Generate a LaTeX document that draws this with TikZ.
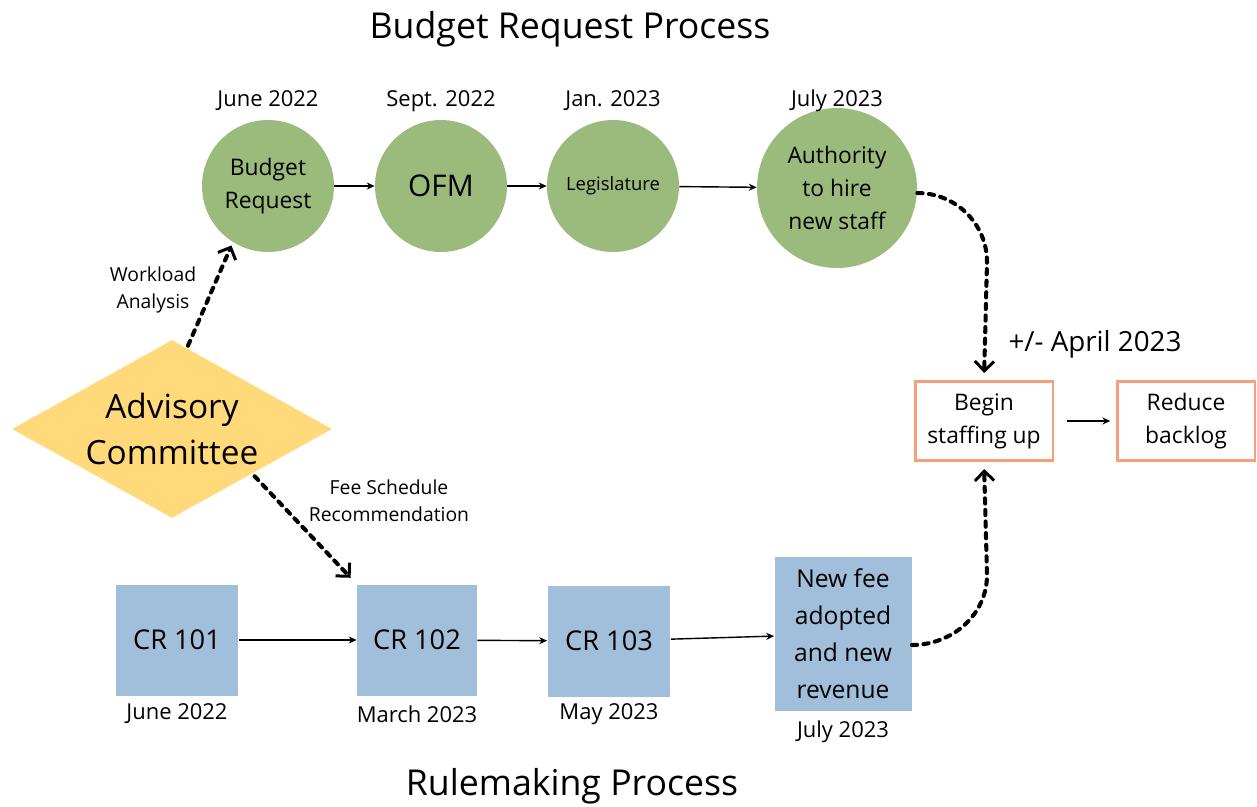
\documentclass[tikz,border=0pt]{standalone}
\usepackage{fontspec}
\setmainfont{Open Sans}
\usetikzlibrary{shapes.geometric,arrows.meta}
\definecolor{budgetgreen}{RGB}{155,187,125}
\definecolor{ruleblue}{RGB}{161,190,218}
\definecolor{advyellow}{RGB}{255,217,122}
\definecolor{staffpeach}{RGB}{246,160,122}
\begin{document}
\begin{tikzpicture}[x=0.02cm,y=-0.02cm,
  step node/.style={circle,fill=budgetgreen,minimum size=2.64cm,inner sep=0pt,align=center,font=\fontsize{13}{18.7}\selectfont},
  cr node/.style={rectangle,fill=ruleblue,minimum width=2.46cm,minimum height=2.22cm,inner sep=0pt,align=center,font=\fontsize{15.5}{18}\selectfont},
  goal node/.style={rectangle,draw=staffpeach,line width=1.7pt,fill=white,minimum width=2.76cm,minimum height=1.58cm,align=center,font=\fontsize{13}{18.7}\selectfont},
  date/.style={font=\fontsize{12.5}{15}\selectfont},
  note/.style={align=center,font=\fontsize{11}{15.3}\selectfont},
  title/.style={font=\fontsize{20.3}{24}\selectfont},
  thin arrow/.style={-{Stealth[length=4.5pt,width=4pt]},line width=0.8pt},
  dot arrow/.style={-{Straight Barb[length=5.5pt,width=11pt,line width=1.7pt]},line width=2.3pt,dash pattern=on 3pt off 3.6pt,line cap=round}]
\useasboundingbox (0,0) rectangle (1257,806);

\node[title] (budgettitle) at (570,29) {Budget Request Process};
\node[title] (ruletitle) at (572,786) {Rulemaking Process};

% budget request process
\node[step node] (request) at (268,186) {Budget\\Request};
\node[step node,font=\fontsize{17}{20}\selectfont] (ofm) at (441,186) {OFM};
\node[step node,font=\fontsize{10.5}{12}\selectfont] (legis) at (613,186) {Legislature};
\node[step node,minimum size=3.2cm] (hire) at (837,188) {Authority\\to hire\\new staff};
\node[date] (d1) at (268,101) {June 2022};
\node[date] (d2) at (441,101) {Sept. 2022};
\node[date] (d3) at (613,101) {Jan. 2023};
\node[date] (d4) at (837,101) {July 2023};

% rulemaking process
\node[cr node] (cr101) at (177,640) {CR 101};
\node[cr node,minimum width=2.4cm] (cr102) at (417,640) {CR 102};
\node[cr node] (cr103) at (609,641) {CR 103};
\node[cr node,minimum width=2.74cm,minimum height=3.08cm,font=\fontsize{14}{21}\selectfont] (newfee) at (843,634) {New fee\\adopted\\and new\\revenue};
\node[date] (d5) at (177,714) {June 2022};
\node[date] (d6) at (417,714) {March 2023};
\node[date] (d7) at (609,714) {May 2023};
\node[date] (d8) at (843,732) {July 2023};

\node[diamond,fill=advyellow,aspect=1.8,minimum width=6.4cm,minimum height=3.56cm,inner sep=0pt,align=center,font=\fontsize{19}{26}\selectfont] (advisory) at (172,429) {Advisory\\Committee};
\node[note] (workload) at (153,290) {Workload\\Analysis};
\node[note] (feesched) at (389,501) {Fee Schedule\\Recommendation};

\node[goal node] (staffing) at (984,421) {Begin\\staffing up};
\node[goal node] (backlog) at (1186,421) {Reduce\\backlog};
\node[font=\fontsize{15.8}{18}\selectfont] (april) at (1095,344) {+/- April 2023};

\coordinate (upbend) at (987,262);
\coordinate (lowbend) at (987,575);

\begin{scope}[thin arrow]
\draw (request) -- (ofm);
\draw (ofm) -- (legis);
\draw (legis) -- (hire);
\draw (cr101) -- (cr102);
\draw (cr102) -- (cr103);
\draw (cr103) -- (newfee);
\draw[shorten <=7pt,shorten >=3pt] (staffing) -- (backlog);
\end{scope}

\begin{scope}[dot arrow]
\draw[shorten >=2pt] ([xshift=0.32cm,yshift=-0.12cm]advisory.north) -- (request.238);
\draw[shorten <=2pt,shorten >=5pt] (advisory.south east) -- (cr102.north west);
\draw[shorten >=4pt] ([yshift=-0.1cm]hire.east) to[out=0,in=90] (upbend) -- (staffing.north);
\draw[shorten >=4pt] ([yshift=-0.22cm]newfee.east) to[out=0,in=-90] (lowbend) -- (staffing.south);
\end{scope}
\end{tikzpicture}
\end{document}
